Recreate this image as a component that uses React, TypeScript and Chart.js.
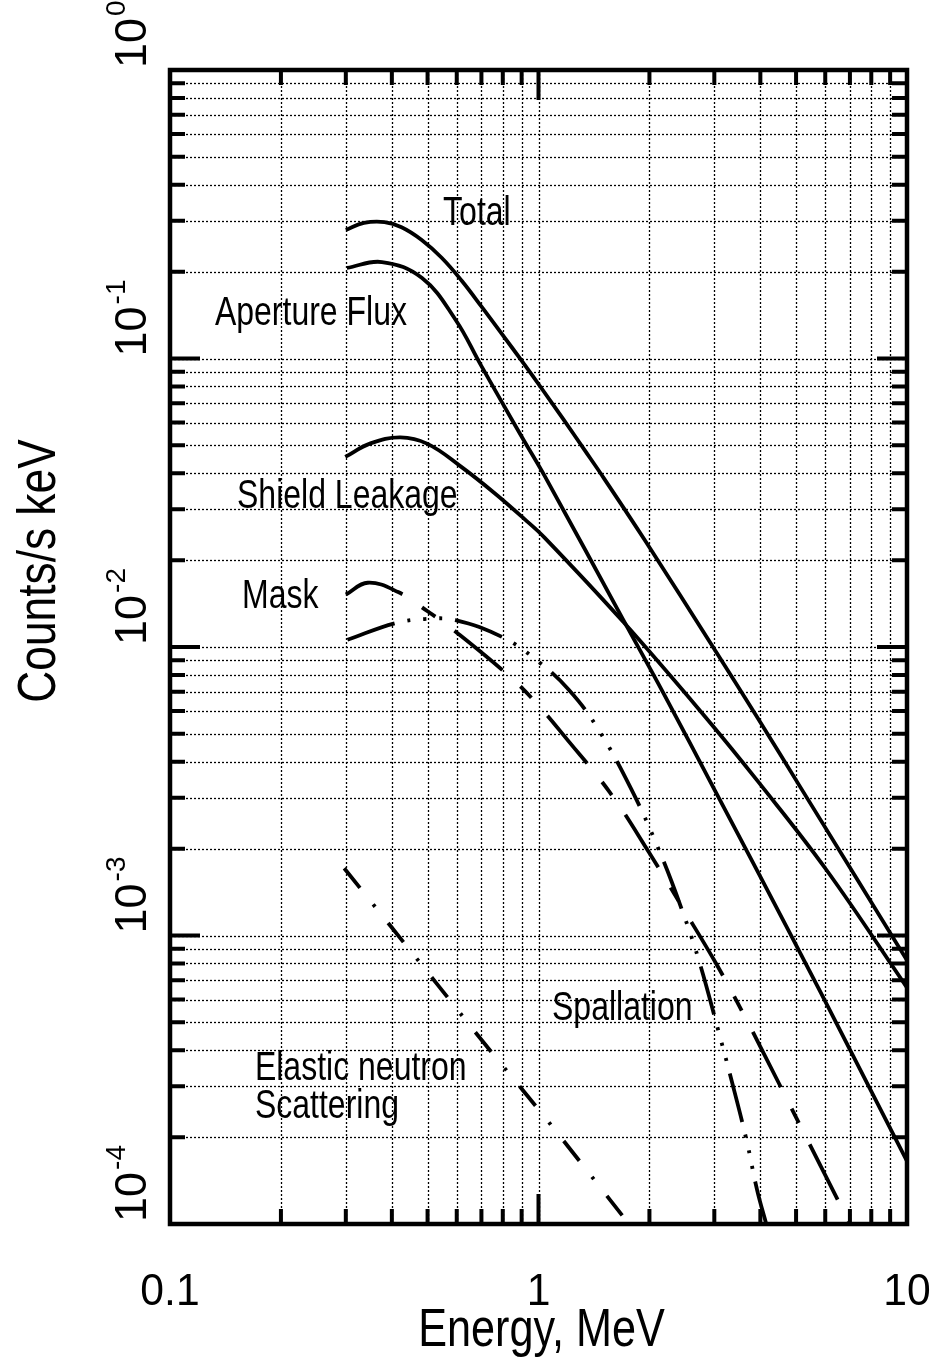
import React, { useEffect, useRef } from "react";
import { Chart, registerables } from "chart.js";

Chart.register(...registerables);

// ---- Data (Energy in MeV, Counts/s keV) ----
const totalEnergy = [0.3, 0.336, 0.382, 0.425, 0.482, 0.546, 0.619, 0.704, 0.798, 0.905, 1.02, 1.17, 1.33, 1.51, 1.95, 2.99, 3.93, 5.18, 10];
const totalCounts = [0.279, 0.295, 0.297, 0.285, 0.2575, 0.2234, 0.186, 0.15, 0.121, 0.0973, 0.0787, 0.0614, 0.0484, 0.0382, 0.0233, 0.0099, 0.00569, 0.00321, 0.00082];

const apertureEnergy = [0.302, 0.376, 0.483, 0.596, 0.694, 0.804, 0.912, 1.04, 1.7, 2.19, 3.02, 3.97, 5.83, 10];
const apertureCounts = [0.206, 0.216, 0.19, 0.136, 0.096, 0.0689, 0.0521, 0.0391, 0.0124, 0.00687, 0.00316, 0.00163, 0.000635, 0.000165];

const shieldEnergy = [0.299, 0.35, 0.422, 0.5, 0.616, 0.759, 0.918, 1.04, 1.7, 2.87, 3.94, 6.04, 10];
const shieldCounts = [0.0456, 0.0508, 0.0533, 0.0506, 0.0422, 0.0342, 0.0277, 0.0239, 0.0122, 0.00562, 0.00342, 0.00169, 0.00066];

const maskEnergy = [0.3, 0.344, 0.416, 0.5, 0.596, 0.854, 1.013, 1.18, 1.56, 1.99, 2.45, 3.05, 3.64, 4.42, 5.25, 7.0];
const maskCounts = [0.0152, 0.0167, 0.0155, 0.0133, 0.0113, 0.0077, 0.00615, 0.00488, 0.00314, 0.00195, 0.00126, 0.00079, 0.00052, 0.00032, 0.000207, 0.0001];

const spallationEnergy = [0.303, 0.409, 0.49, 0.595, 0.8, 1.0, 1.21, 1.44, 1.78, 2.14, 2.49, 2.74, 3.06, 3.33, 3.67, 3.92, 4.15];
const spallationCounts = [0.0106, 0.0121, 0.0125, 0.0124, 0.0108, 0.0089, 0.0071, 0.00528, 0.00324, 0.00193, 0.00116, 0.0008, 0.00048, 0.00032, 0.000195, 0.000131, 0.0001];

const elasticEnergy = [0.297, 0.53, 0.7, 1.025, 1.76];
const elasticCounts = [0.00171, 0.00068, 0.000435, 0.00024, 0.0001];

// ---- Axis ticks ----
const xTickValues = [0.1, 1, 10];
const xTickLabels = ["0.1", "1", "10"];
const yTickValues = [1, 0.1, 0.01, 0.001, 0.0001];
const yTickExponents = ["0", "-1", "-2", "-3", "-4"];
const xDecades = [0.1, 1];
const yDecades = [0.0001, 0.001, 0.01, 0.1];
const multiples = [1, 2, 3, 4, 5, 6, 7, 8, 9];

// ---- Curve annotations (anchored in data coordinates) ----
const annotationTexts = ["Total", "Aperture Flux", "Shield Leakage", "Mask", "Spallation", "Elastic neutron", "Scattering"];
const annotationEnergy = [0.551, 0.1324, 0.152, 0.1568, 1.088, 0.17, 0.17];
const annotationCounts = [0.29, 0.1306, 0.0303, 0.01365, 0.00051, 0.000316, 0.000233];

const FONT = '"Liberation Sans", Arial, Helvetica, sans-serif';

function drawText(ctx: CanvasRenderingContext2D, text: string, x: number, y: number, size: number, sx: number, align: CanvasTextAlign, rot = 0) {
  ctx.save();
  ctx.translate(x, y);
  if (rot) ctx.rotate(rot);
  ctx.scale(sx, 1);
  ctx.font = `${size}px ${FONT}`;
  ctx.textAlign = align;
  ctx.textBaseline = "alphabetic";
  ctx.fillStyle = "#000";
  ctx.fillText(text, 0, 0);
  ctx.restore();
}

const gridValues = (decades: number[], max: number) => {
  const out: number[] = [];
  decades.forEach((d) => multiples.forEach((m) => out.push(d * m)));
  out.push(max);
  return out;
};

const isDecade = (v: number) => Math.abs(Math.log10(v) - Math.round(Math.log10(v))) < 1e-6;

const framePlugin = {
  id: "framePlugin",
  beforeDatasetsDraw(chart: any) {
    const { ctx, chartArea: a, scales } = chart;
    const xs = scales.x;
    const ys = scales.y;
    ctx.save();
    ctx.strokeStyle = "#000";
    ctx.lineWidth = 1.3;
    ctx.setLineDash([2, 2]);
    gridValues(xDecades, 10).forEach((v) => {
      const px = Math.round(xs.getPixelForValue(v)) + 0.5;
      ctx.beginPath();
      ctx.moveTo(px, a.top);
      ctx.lineTo(px, a.bottom);
      ctx.stroke();
    });
    gridValues(yDecades, 1).forEach((v) => {
      const py = Math.round(ys.getPixelForValue(v)) + 0.5;
      ctx.beginPath();
      ctx.moveTo(a.left, py);
      ctx.lineTo(a.right, py);
      ctx.stroke();
    });
    ctx.restore();
  },
  afterDatasetsDraw(chart: any) {
    const { ctx, chartArea: a, scales } = chart;
    const xs = scales.x;
    const ys = scales.y;
    ctx.save();
    ctx.setLineDash([]);
    ctx.strokeStyle = "#000";
    // inward tick marks
    ctx.lineWidth = 4;
    gridValues(xDecades, 10).forEach((v) => {
      const px = xs.getPixelForValue(v);
      const len = isDecade(v) ? 30 : 15;
      ctx.beginPath();
      ctx.moveTo(px, a.bottom);
      ctx.lineTo(px, a.bottom - len);
      ctx.moveTo(px, a.top);
      ctx.lineTo(px, a.top + len);
      ctx.stroke();
    });
    gridValues(yDecades, 1).forEach((v) => {
      const py = ys.getPixelForValue(v);
      const len = isDecade(v) ? 30 : 15;
      ctx.beginPath();
      ctx.moveTo(a.left, py);
      ctx.lineTo(a.left + len, py);
      ctx.moveTo(a.right, py);
      ctx.lineTo(a.right - len, py);
      ctx.stroke();
    });
    // frame
    ctx.lineWidth = 4.5;
    ctx.strokeRect(a.left, a.top, a.right - a.left, a.bottom - a.top);

    // x tick labels
    xTickValues.forEach((v, i) => {
      drawText(ctx, xTickLabels[i], xs.getPixelForValue(v), a.bottom + 81, 44, 0.97, "center");
    });
    // y tick labels (rotated, with superscript exponent)
    yTickValues.forEach((v, i) => {
      const py = ys.getPixelForValue(v) - 2;
      ctx.save();
      ctx.translate(a.left - 24, py);
      ctx.rotate(-Math.PI / 2);
      ctx.fillStyle = "#000";
      ctx.textAlign = "left";
      ctx.textBaseline = "alphabetic";
      ctx.font = `45px ${FONT}`;
      ctx.fillText("10", 0, 0);
      const w = ctx.measureText("10").width;
      ctx.font = `28px ${FONT}`;
      ctx.fillText(yTickExponents[i], w + 2, -21);
      ctx.restore();
    });

    // axis titles
    drawText(ctx, "Energy, MeV", (a.left + a.right) / 2 + 3, a.bottom + 122, 54, 0.8, "center");
    drawText(ctx, "Counts/s keV", 55, 571, 54, 0.82, "center", -Math.PI / 2);

    // curve annotations
    annotationTexts.forEach((t, i) => {
      drawText(ctx, t, xs.getPixelForValue(annotationEnergy[i]), ys.getPixelForValue(annotationCounts[i]), 40, 0.8, "left");
    });
    ctx.restore();
  },
};

const series = (label: string, e: number[], c: number[], dash: number[]) => ({
  label,
  data: e.map((x, i) => ({ x, y: c[i] })),
  borderColor: "#000",
  borderWidth: 3.8,
  borderDash: dash,
  borderCapStyle: "butt" as const,
  borderJoinStyle: "round" as const,
  pointRadius: 0,
  fill: false,
  tension: 0.4,
});

export default function App() {
  const canvasRef = useRef<HTMLCanvasElement | null>(null);

  useEffect(() => {
    if (!canvasRef.current) return;
    const chart = new Chart(canvasRef.current, {
      type: "line",
      data: {
        datasets: [
          series("Total", totalEnergy, totalCounts, []),
          series("Aperture Flux", apertureEnergy, apertureCounts, []),
          series("Shield Leakage", shieldEnergy, shieldCounts, []),
          series("Mask", maskEnergy, maskCounts, [62, 24, 16, 24]),
          series("Spallation", spallationEnergy, spallationCounts, [50, 13, 3, 13, 3, 13, 3, 13]),
          series("Elastic neutron Scattering", elasticEnergy, elasticCounts, [25, 21, 3, 21]),
        ],
      },
      options: {
        responsive: false,
        animation: false,
        events: [],
        layout: { padding: { left: 170, right: 24, top: 70, bottom: 145 } },
        plugins: { legend: { display: false }, tooltip: { enabled: false } },
        scales: {
          x: { type: "logarithmic", min: 0.1, max: 10, display: false },
          y: { type: "logarithmic", min: 0.0001, max: 1, display: false },
        },
      },
      plugins: [framePlugin],
    });
    return () => chart.destroy();
  }, []);

  return (
    <div style={{ position: "fixed", left: 0, top: 0, width: 931, height: 1369, background: "#fff" }}>
      <canvas ref={canvasRef} width={931} height={1369} style={{ display: "block" }} />
    </div>
  );
}
